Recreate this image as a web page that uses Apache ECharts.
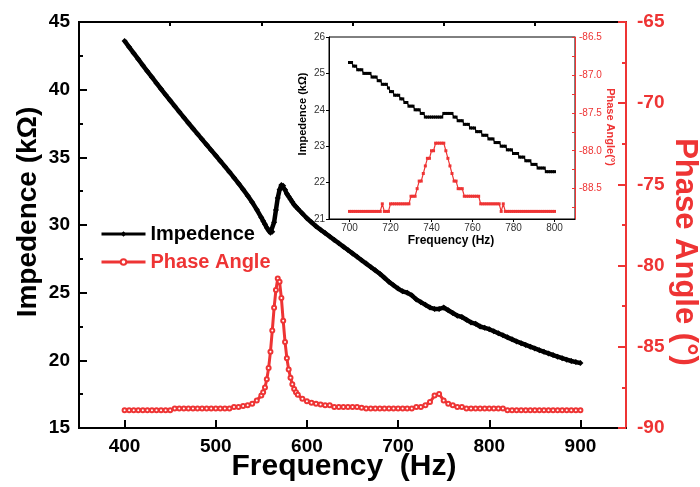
<!DOCTYPE html>
<html>
<head>
<meta charset="utf-8">
<script src="https://cdn.jsdelivr.net/npm/echarts@6/dist/echarts.min.js"></script>
<style>html,body{margin:0;padding:0;background:#fff;}#c{width:700px;height:487px;}</style>
</head>
<body>
<div id="c"></div>
<script>
// ---------- DATA ----------
const mainFreq = [400,405,410,415,420,425,430,435,440,445,450,455,460,465,470,475,480,485,490,495,500,505,510,515,520,525,530,535,540,545,550,
  552,554,556,558,560,562,564,566,568,570,572,574,576,578,580,582,584,586,588,590,
  595,600,605,610,615,620,625,630,635,640,645,650,655,660,665,670,675,680,685,690,695,700,705,710,715,720,725,730,735,740,
  745,750,755,760,765,770,775,780,785,790,795,800,805,810,815,820,825,830,835,840,845,850,855,860,865,870,875,880,885,890,895,900];
const mainImpedence = [43.6,43.15,42.7,42.25,41.8,41.36,40.92,40.48,40.05,39.62,39.2,38.78,38.36,37.95,37.54,37.13,36.73,36.33,35.93,35.53,35.13,34.73,34.33,33.92,33.5,33.07,32.63,32.17,31.68,31.14,30.55,
  30.3,30.05,29.8,29.6,29.42,29.5,30.2,31.1,32.0,32.6,32.95,32.9,32.6,32.3,32.1,31.9,31.7,31.5,31.35,31.2,
  30.85,30.5,30.2,29.9,29.65,29.4,29.15,28.9,28.65,28.4,28.15,27.9,27.65,27.4,27.15,26.9,26.65,26.4,26.1,25.8,25.55,25.3,25.1,25.0,24.8,24.5,24.3,24.1,23.9,23.8,
  23.8,23.9,23.7,23.5,23.3,23.2,23.0,22.8,22.7,22.5,22.4,22.3,22.15,22.0,21.85,21.7,21.55,21.4,21.27,21.14,21.01,20.88,20.75,20.63,20.51,20.39,20.27,20.16,20.05,19.95,19.87,19.8];
const mainPhase = [-88.9,-88.9,-88.9,-88.9,-88.9,-88.9,-88.9,-88.9,-88.9,-88.9,-88.9,
  -88.8,-88.8,-88.8,-88.8,-88.8,-88.8,-88.8,-88.8,-88.8,-88.8,-88.8,-88.8,-88.8,
  -88.7,-88.7,-88.65,-88.6,-88.5,-88.3,-88.0,
  -87.8,-87.5,-87.0,-86.3,-85.3,-84.0,-82.6,-81.5,-80.8,-81.0,-82.0,-83.4,-84.7,-85.7,-86.4,-86.9,-87.3,-87.6,-87.8,-87.95,
  -88.2,-88.35,-88.45,-88.5,-88.55,-88.6,-88.6,-88.7,-88.7,-88.7,-88.7,-88.7,-88.7,-88.75,-88.8,-88.8,-88.8,-88.8,-88.8,-88.8,-88.8,-88.8,
  -88.8,-88.8,-88.8,-88.7,-88.7,-88.6,-88.4,-88.0,-87.9,-88.3,-88.5,-88.6,-88.7,-88.7,-88.8,-88.8,-88.8,-88.8,-88.8,-88.8,-88.8,-88.8,-88.8,
  -88.9,-88.9,-88.9,-88.9,-88.9,-88.9,-88.9,-88.9,-88.9,-88.9,-88.9,-88.9,-88.9,-88.9,-88.9,-88.9,-88.9];

const insetFreq = [700,701,702,703,704,705,706,707,708,709,710,711,712,713,714,715,716,717,718,719,
  720,721,722,723,724,725,726,727,728,729,730,731,732,733,734,735,736,737,738,739,
  740,741,742,743,744,745,746,747,748,749,750,751,752,753,754,755,756,757,758,759,
  760,761,762,763,764,765,766,767,768,769,770,771,772,773,774,775,776,777,778,779,
  780,781,782,783,784,785,786,787,788,789,790,791,792,793,794,795,796,797,798,799,800];
const insetImpedence = [25.3,25.3,25.2,25.2,25.1,25.1,25.1,25.0,25.0,25.0,25.0,24.9,24.9,24.9,24.8,24.8,24.7,24.7,24.7,24.6,
  24.5,24.5,24.4,24.4,24.4,24.3,24.3,24.2,24.2,24.1,24.1,24.1,24.0,24.0,24.0,23.9,23.9,23.8,23.8,23.8,
  23.8,23.8,23.8,23.8,23.8,23.8,23.9,23.9,23.9,23.9,23.9,23.8,23.8,23.7,23.7,23.7,23.6,23.6,23.6,23.5,
  23.5,23.5,23.4,23.4,23.4,23.3,23.3,23.3,23.2,23.2,23.2,23.1,23.1,23.1,23.0,23.0,23.0,22.9,22.9,22.9,
  22.8,22.8,22.8,22.7,22.7,22.7,22.6,22.6,22.6,22.5,22.5,22.5,22.4,22.4,22.4,22.4,22.3,22.3,22.3,22.3,22.3];
const insetPhase = [-88.8,-88.8,-88.8,-88.8,-88.8,-88.8,-88.8,-88.8,-88.8,-88.8,-88.8,-88.8,-88.8,-88.8,-88.8,-88.8,-88.7,-88.8,-88.8,-88.8,
  -88.7,-88.7,-88.7,-88.7,-88.7,-88.7,-88.7,-88.7,-88.7,-88.7,-88.6,-88.6,-88.6,-88.5,-88.4,-88.4,-88.3,-88.2,-88.1,-88.1,
  -88.0,-88.0,-87.9,-87.9,-87.9,-87.9,-87.9,-88.0,-88.1,-88.2,-88.3,-88.4,-88.4,-88.5,-88.5,-88.5,-88.6,-88.6,-88.6,-88.6,
  -88.6,-88.6,-88.6,-88.6,-88.7,-88.7,-88.7,-88.7,-88.7,-88.7,-88.7,-88.7,-88.7,-88.7,-88.8,-88.7,-88.8,-88.8,-88.8,-88.8,
  -88.8,-88.8,-88.8,-88.8,-88.8,-88.8,-88.8,-88.8,-88.8,-88.8,-88.8,-88.8,-88.8,-88.8,-88.8,-88.8,-88.8,-88.8,-88.8,-88.8,-88.8];

const freqTicks = [400,500,600,700,800,900];
const freqMinorTicks = [450,550,650,750,850];
const insetFreqTicks = [700,720,740,760,780,800];
const insetPhaseLabels = [-88.5,-88.0,-87.5,-87.0,-86.5];
const insetPhaseTicks = [-88.75,-88.5,-88.25,-88.0,-87.75,-87.5,-87.25,-87.0,-86.75,-86.5];

// ---------- STYLE ----------
const RED = '#ee3434';
const FF = '"Liberation Sans", Arial, Helvetica, sans-serif';
const zip = (a, b) => a.map((v, i) => [v, b[i]]);

const chart = echarts.init(document.getElementById('c'), null, {renderer: 'canvas'});
const bigLabel = (color, margin) => ({color, fontSize: 19, fontWeight: 'bold', fontFamily: FF, margin});
const smallLabel = (color) => ({color, fontSize: 10, fontFamily: FF, margin: 4});

const option = {
  animation: false,
  backgroundColor: '#fff',
  grid: [
    {left: 79, right: 74, top: 22, bottom: 59, show: true, borderColor: '#000', borderWidth: 2, backgroundColor: 'transparent'},
    {left: 329, right: 125, top: 37, bottom: 268, show: true, borderColor: '#000', borderWidth: 1, backgroundColor: 'transparent'}
  ],
  xAxis: [
    {gridIndex: 0, type: 'value', min: 350, max: 950, interval: 50,
      axisLine: {lineStyle: {color: '#000', width: 2}},
      axisTick: {show: true, inside: true, length: 8, customValues: freqTicks, lineStyle: {color: '#000', width: 2}},
      axisLabel: Object.assign({customValues: freqTicks}, bigLabel('#000', 9)),
      splitLine: {show: false}},
    {gridIndex: 0, type: 'value', min: 350, max: 950, interval: 50,
      axisLine: {show: false}, axisLabel: {show: false},
      axisTick: {show: true, inside: true, length: 4, customValues: freqMinorTicks, lineStyle: {color: '#000', width: 2}},
      splitLine: {show: false}},
    {gridIndex: 1, type: 'value', min: 690, max: 810, interval: 10,
      axisLine: {lineStyle: {color: '#000', width: 1}},
      axisTick: {show: true, inside: false, length: 3, customValues: insetFreqTicks, lineStyle: {color: '#000'}},
      axisLabel: Object.assign({customValues: insetFreqTicks}, smallLabel('#333')),
      splitLine: {show: false}}
  ],
  yAxis: [
    {gridIndex: 0, type: 'value', position: 'left', min: 15, max: 45, interval: 5,
      axisLine: {show: true, lineStyle: {color: '#000', width: 2}},
      axisTick: {show: true, inside: true, length: 8, lineStyle: {color: '#000', width: 2}},
      minorTick: {show: true, splitNumber: 2, length: 4, lineStyle: {color: '#000', width: 2}},
      axisLabel: bigLabel('#000', 9),
      splitLine: {show: false}},
    {gridIndex: 0, type: 'value', position: 'right', min: -90, max: -65, interval: 5,
      axisLine: {show: true, lineStyle: {color: RED, width: 2}},
      axisTick: {show: true, inside: true, length: 8, lineStyle: {color: RED, width: 2}},
      minorTick: {show: true, splitNumber: 2, length: 4, lineStyle: {color: RED, width: 2}},
      axisLabel: bigLabel(RED, 11),
      splitLine: {show: false}},
    {gridIndex: 1, type: 'value', position: 'left', min: 21, max: 26, interval: 1,
      axisLine: {show: true, lineStyle: {color: '#000', width: 1}},
      axisTick: {show: true, inside: false, length: 3, lineStyle: {color: '#000'}},
      axisLabel: smallLabel('#333'),
      splitLine: {show: false}},
    {gridIndex: 1, type: 'value', position: 'right', min: -88.9, max: -86.5,
      axisLine: {show: true, lineStyle: {color: RED, width: 1}},
      axisTick: {show: true, inside: true, length: 3, customValues: insetPhaseTicks, lineStyle: {color: RED}},
      axisLabel: Object.assign({customValues: insetPhaseLabels, formatter: v => v.toFixed(1)}, smallLabel(RED)),
      splitLine: {show: false}}
  ],
  legend: {
    orient: 'vertical', left: 100, top: 224, padding: 0, itemWidth: 44, itemHeight: 7, itemGap: 8,
    selectedMode: false,
    textStyle: {fontSize: 20, fontWeight: 'bold', fontFamily: FF, lineHeight: 20, color: '#000'},
    data: [
      {name: 'Impedence', textStyle: {color: '#000'}, lineStyle: {width: 3}},
      {name: 'Phase Angle', textStyle: {color: RED}, lineStyle: {width: 3}}
    ]
  },
  series: [
    {name: 'Impedence', type: 'line', xAxisIndex: 0, yAxisIndex: 0, data: zip(mainFreq, mainImpedence),
      symbol: 'diamond', symbolSize: 6, showAllSymbol: true,
      lineStyle: {color: '#000', width: 4.5}, itemStyle: {color: '#000'}},
    {name: 'Phase Angle', type: 'line', xAxisIndex: 0, yAxisIndex: 1, data: zip(mainFreq, mainPhase),
      symbol: 'emptyCircle', symbolSize: 4, showAllSymbol: true,
      lineStyle: {color: RED, width: 3}, itemStyle: {color: RED, borderWidth: 1.5}},
    {name: 'insetImp', type: 'line', xAxisIndex: 2, yAxisIndex: 2, data: zip(insetFreq, insetImpedence),
      symbol: 'rect', symbolSize: 3, showAllSymbol: true,
      lineStyle: {color: '#000', width: 1.2}, itemStyle: {color: '#000'}},
    {name: 'insetPhase', type: 'line', xAxisIndex: 2, yAxisIndex: 3, data: zip(insetFreq, insetPhase),
      symbol: 'rect', symbolSize: 3, showAllSymbol: true,
      lineStyle: {color: RED, width: 1.2}, itemStyle: {color: RED}}
  ],
  graphic: [
    {type: 'text', x: 28, y: 212, rotation: Math.PI / 2,
      style: {text: 'Impedence (kΩ)', font: 'bold 28px ' + FF, fill: '#000', textAlign: 'center', textVerticalAlign: 'middle', align: 'center', verticalAlign: 'middle'}},
    {type: 'text', x: 685, y: 252, rotation: -Math.PI / 2,
      style: {text: 'Phase Angle (°)', font: 'bold 31px ' + FF, fill: RED, textAlign: 'center', textVerticalAlign: 'middle', align: 'center', verticalAlign: 'middle'}},
    {type: 'text', x: 344, y: 467,
      style: {text: 'Frequency  (Hz)', font: 'bold 30px ' + FF, fill: '#000', textAlign: 'center', textVerticalAlign: 'middle', align: 'center', verticalAlign: 'middle'}},
    {type: 'text', x: 303, y: 114, rotation: Math.PI / 2,
      style: {text: 'Impedence (kΩ)', font: 'bold 11px ' + FF, fill: '#000', textAlign: 'center', textVerticalAlign: 'middle', align: 'center', verticalAlign: 'middle'}},
    {type: 'text', x: 451, y: 241,
      style: {text: 'Frequency (Hz)', font: 'bold 12px ' + FF, fill: '#000', textAlign: 'center', textVerticalAlign: 'middle', align: 'center', verticalAlign: 'middle'}},
    {type: 'text', x: 610, y: 127, rotation: -Math.PI / 2,
      style: {text: 'Phase Angle(°)', font: 'bold 11px ' + FF, fill: RED, textAlign: 'center', textVerticalAlign: 'middle', align: 'center', verticalAlign: 'middle'}}
  ]
};
chart.setOption(option);
</script>
</body>
</html>
